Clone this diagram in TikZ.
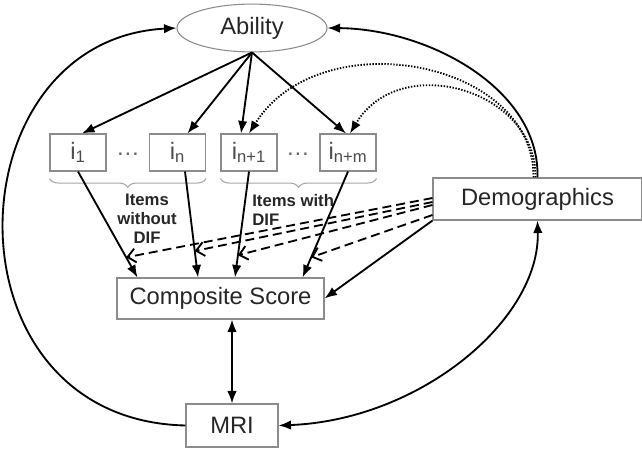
\documentclass[tikz,border=0pt]{standalone}
\usepackage{fontspec}
\setmainfont{Liberation Sans}
\usetikzlibrary{arrows.meta}
\usetikzlibrary{calc}
\usetikzlibrary{shapes.geometric}
\usetikzlibrary{decorations.pathreplacing}

\begin{document}
\begin{tikzpicture}[x=0.2mm, y=-0.2mm,
        box/.style={rectangle, draw=black!45, fill=white, line width=0.6pt, font=\fontsize{13.5}{16}\selectfont, text=black!85},
        item/.style={box, minimum width=11.2mm, minimum height=7.4mm, inner sep=0pt, text=black!70},
        latent/.style={ellipse, draw=black!45, fill=white, line width=0.6pt, minimum width=30mm, minimum height=8.4mm, font=\fontsize{13.5}{16}\selectfont, text=black!85},
        gap/.style={font=\fontsize{13.5}{16}\selectfont, text=black!60},
        note/.style={font=\fontsize{9.5}{10.8}\selectfont\bfseries, text=black!85, inner sep=0pt},
        group/.style={decorate, decoration={brace, mirror, amplitude=1.8mm}, draw=black!35, line width=0.6pt},
        path/.style={-{Latex[length=2.5mm, width=1.9mm]}, line width=1.05pt},
        cov/.style={{Latex[length=2.5mm, width=1.9mm]}-{Latex[length=2.5mm, width=1.9mm]}, line width=1.05pt},
        dif/.style={-{Straight Barb[length=1.6mm, width=2.8mm]}, line width=1.05pt, dash pattern=on 1.8mm off 1mm},
        difitem/.style={-{Latex[length=2.5mm, width=1.9mm]}, line width=1.05pt, dash pattern=on 0.8pt off 0.9pt},
        ]
    \useasboundingbox (0,0) rectangle (642,448);

    \node[latent] (ability) at (252,28) {Ability};

    \node[item] (i1) at (78,152.5) {i\textsubscript{1}};
    \node[gap] (dots1) at (128,154) {\dots};
    \node[item] (in) at (177.5,152.5) {i\textsubscript{n}};
    \node[item] (in1) at (249,152.5) {i\textsubscript{n+1}};
    \node[gap] (dots2) at (298,154) {\dots};
    \node[item] (inm) at (348,152.5) {i\textsubscript{n+m}};

    \node[box, minimum width=41.8mm, minimum height=8.4mm] (demo) at (537.5,199) {Demographics};
    \node[box, minimum width=41.4mm, minimum height=8.2mm] (cs) at (220.5,298.5) {Composite Score};
    \node[box, minimum width=18.4mm, minimum height=8.6mm] (mri) at (232,425.5) {MRI};

    \draw[group] ([yshift=-1.4mm]i1.south west) -- ([yshift=-1.4mm]in.south east);
    \draw[group] ([yshift=-1.4mm]in1.south west) -- ([yshift=-1.4mm]inm.south east);
    \node[note, align=center] (nodif) at (147,219) {Items\\without\\DIF};
    \node[note, align=left, anchor=west] (withdif) at (252,209.5) {Items with\\DIF};

    \draw[path] (ability.south) -- ([xshift=0.8mm]i1.north);
    \draw[path] (ability.south) -- ([xshift=2mm]in.north);
    \draw[path] (ability.south) -- ([xshift=-1.6mm]in1.north);
    \draw[path] (ability.south) -- ([xshift=-0.4mm]inm.north);

    \draw[difitem] ([xshift=-0.8mm]demo.north) .. controls (535,60) and (320,20) .. (in1.north);
    \draw[difitem] ([xshift=-0.4mm]demo.north) .. controls (537,90) and (400,50) .. ([xshift=0.4mm]inm.north);

    \draw[path] (i1.south) -- coordinate[pos=0.81] (d1) ([xshift=4.2mm]cs.north west);
    \draw[path] ([xshift=1.5mm]in.south) -- coordinate[pos=0.75] (d2) ([xshift=-4.5mm]cs.north);
    \draw[path] (in1.south) -- coordinate[pos=0.79] (d3) ([xshift=2.9mm]cs.north);
    \draw[path] (inm.south) -- coordinate[pos=0.81] (d4) ([xshift=-4.4mm]cs.north east);

    \draw[dif] ([yshift=0.2mm]demo.west) -- (d1);
    \draw[dif] ([yshift=-0.6mm]demo.west) -- (d2);
    \draw[dif] ([yshift=-1.2mm]demo.west) -- (d3);
    \draw[dif] ([yshift=-3.2mm]demo.west) -- (d4);

    \draw[path] (demo.south west) -- (cs.east);
    \draw[cov] (mri.north) -- (mri.north |- cs.south);

    \draw[path] (demo.north) .. controls (540,90) and (430,29) .. (ability.east);
    \draw[path] (mri.west) .. controls (-60,420) and (-50,40) .. (ability.west);
    \draw[cov] (mri.east) .. controls (420,420) and (540,320) .. (demo.south);
\end{tikzpicture}
\end{document}
